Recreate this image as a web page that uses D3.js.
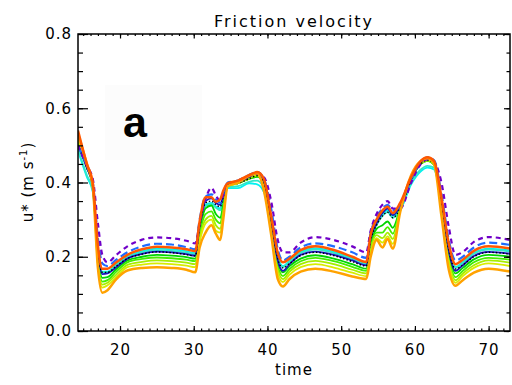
<!DOCTYPE html>
<html>
<head>
<meta charset="utf-8">
<script src="https://d3js.org/d3.v7.min.js"></script>
<style>
body { margin:0; background:#fff; }
text { font-family:"DejaVu Sans", sans-serif; }
</style>
</head>
<body>
<svg id="mainSvg" width="512" height="385"></svg>
<script>
// time axis (hours) shared by every run
var times = [14.3,15.5,16.3,17.0,17.6,18.3,19.5,21,23,25,27,29,30.2,30.8,31.6,32.4,33.0,33.6,34.0,34.6,
    36,37.5,38.6,39.5,40.5,41.4,42.1,43,44.5,46.5,49,51.5,53.4,54.0,54.8,55.6,56.3,57.0,58.0,59.5,
    60.8,61.7,62.6,63.6,64.6,65.5,66.5,68,70,72.9];

// u* for each run
var purpleDashed = [0.50,0.445,0.41,0.29,0.205,0.185,0.205,0.228,0.246,0.252,0.25,0.243,0.236,0.29,0.355,0.386,0.365,0.35,0.365,0.395,
    0.405,0.418,0.423,0.415,0.35,0.245,0.212,0.212,0.238,0.253,0.245,0.228,0.212,0.27,0.315,0.34,0.35,0.33,0.33,0.40,
    0.45,0.462,0.455,0.40,0.28,0.205,0.213,0.24,0.253,0.245];
var blueDashed = [0.50,0.445,0.40,0.25,0.182,0.175,0.192,0.212,0.228,0.235,0.233,0.226,0.22,0.30,0.362,0.368,0.355,0.345,0.37,0.40,
    0.405,0.42,0.428,0.41,0.33,0.22,0.19,0.20,0.225,0.236,0.228,0.212,0.197,0.265,0.305,0.33,0.34,0.325,0.335,0.41,
    0.455,0.468,0.46,0.37,0.245,0.19,0.20,0.225,0.238,0.232];
var redOrange = [0.54,0.45,0.40,0.23,0.168,0.168,0.185,0.205,0.22,0.227,0.225,0.22,0.215,0.295,0.36,0.36,0.348,0.355,0.378,0.398,
    0.405,0.42,0.428,0.41,0.31,0.21,0.185,0.195,0.218,0.228,0.218,0.20,0.186,0.26,0.30,0.325,0.335,0.318,0.345,0.415,
    0.458,0.468,0.458,0.36,0.235,0.18,0.192,0.216,0.228,0.222];
var cyanA = [0.485,0.415,0.375,0.22,0.16,0.16,0.18,0.20,0.215,0.222,0.22,0.215,0.21,0.28,0.34,0.345,0.335,0.33,0.355,0.385,
    0.385,0.398,0.395,0.375,0.30,0.20,0.175,0.19,0.213,0.223,0.213,0.196,0.183,0.25,0.29,0.315,0.325,0.31,0.325,0.395,
    0.43,0.44,0.435,0.35,0.225,0.172,0.186,0.21,0.222,0.217];
var cyanB = [0.49,0.42,0.38,0.218,0.158,0.158,0.178,0.198,0.212,0.218,0.216,0.211,0.207,0.278,0.337,0.342,0.332,0.325,0.35,0.387,
    0.39,0.402,0.405,0.385,0.30,0.198,0.172,0.187,0.21,0.22,0.21,0.193,0.18,0.248,0.285,0.31,0.32,0.305,0.325,0.40,
    0.435,0.445,0.44,0.35,0.222,0.17,0.183,0.208,0.219,0.214];
var navy = [0.50,0.44,0.39,0.215,0.153,0.155,0.172,0.195,0.208,0.214,0.212,0.207,0.203,0.285,0.35,0.357,0.345,0.34,0.365,0.395,
    0.40,0.415,0.425,0.405,0.30,0.19,0.162,0.18,0.205,0.214,0.205,0.19,0.177,0.25,0.29,0.318,0.33,0.312,0.335,0.41,
    0.455,0.465,0.455,0.355,0.215,0.162,0.177,0.202,0.213,0.208];
var blackDotted = [0.50,0.44,0.39,0.215,0.158,0.158,0.175,0.195,0.207,0.213,0.211,0.206,0.202,0.28,0.345,0.35,0.34,0.335,0.36,0.393,
    0.398,0.41,0.418,0.40,0.30,0.195,0.17,0.182,0.203,0.212,0.203,0.187,0.175,0.245,0.285,0.31,0.32,0.305,0.33,0.405,
    0.45,0.46,0.45,0.35,0.218,0.167,0.178,0.20,0.212,0.207];
var green = [0.505,0.44,0.395,0.205,0.143,0.145,0.167,0.19,0.20,0.205,0.203,0.199,0.195,0.27,0.33,0.338,0.315,0.305,0.34,0.392,
    0.398,0.41,0.415,0.40,0.29,0.185,0.158,0.175,0.195,0.204,0.195,0.18,0.168,0.235,0.275,0.285,0.295,0.278,0.33,0.41,
    0.45,0.458,0.448,0.345,0.21,0.155,0.17,0.193,0.205,0.20];
var lime = [0.51,0.443,0.393,0.195,0.133,0.137,0.16,0.185,0.194,0.198,0.196,0.192,0.188,0.26,0.315,0.322,0.30,0.29,0.33,0.39,
    0.398,0.41,0.417,0.395,0.28,0.175,0.148,0.167,0.188,0.197,0.188,0.173,0.162,0.228,0.265,0.265,0.28,0.262,0.33,0.41,
    0.45,0.458,0.448,0.34,0.20,0.145,0.162,0.185,0.197,0.192];
var yellowGreen = [0.515,0.445,0.39,0.185,0.125,0.13,0.152,0.178,0.186,0.19,0.188,0.184,0.18,0.25,0.30,0.31,0.285,0.275,0.32,0.39,
    0.398,0.412,0.42,0.39,0.27,0.165,0.14,0.16,0.18,0.189,0.18,0.165,0.155,0.22,0.258,0.25,0.265,0.248,0.33,0.415,
    0.452,0.46,0.45,0.33,0.19,0.137,0.155,0.177,0.19,0.184];
var yellow = [0.52,0.447,0.39,0.178,0.117,0.123,0.145,0.172,0.179,0.182,0.18,0.176,0.172,0.24,0.29,0.30,0.27,0.265,0.31,0.39,
    0.398,0.414,0.42,0.385,0.265,0.155,0.132,0.152,0.172,0.18,0.171,0.157,0.148,0.21,0.25,0.238,0.255,0.235,0.325,0.415,
    0.452,0.462,0.45,0.325,0.18,0.13,0.148,0.17,0.182,0.175];
var orange = [0.53,0.45,0.39,0.17,0.103,0.11,0.14,0.163,0.17,0.172,0.17,0.165,0.158,0.225,0.265,0.285,0.262,0.245,0.30,0.39,
    0.40,0.418,0.425,0.38,0.26,0.14,0.12,0.14,0.16,0.168,0.16,0.147,0.14,0.20,0.245,0.225,0.248,0.222,0.32,0.42,
    0.458,0.465,0.45,0.31,0.165,0.122,0.137,0.157,0.168,0.16];

var yTicks = [0.0,0.2,0.4,0.6,0.8];
var xTicks = [20,30,40,50,60,70];

// plot box
var L = 78, R = 510, T = 34, B = 331;
var svg = d3.select("#mainSvg");
var x = d3.scaleLinear().domain([14.3,72.9]).range([L,R]);
var y = d3.scaleLinear().domain([0,0.8]).range([B,T]);

svg.append("clipPath").attr("id","clip").append("rect")
    .attr("x",L).attr("y",T).attr("width",R-L).attr("height",B-T);

// draw order: bottom of the pile first
var runs = [
    {v:cyanA, c:"#00f2f2", w:1.8},
    {v:cyanB, c:"#30e8c8", w:1.8},
    {v:green, c:"#00d400", w:1.8},
    {v:lime, c:"#44ee00", w:1.8},
    {v:yellowGreen, c:"#a6ee00", w:1.8},
    {v:yellow, c:"#d8ec00", w:1.8},
    {v:navy, c:"#1a12c0", w:1.8},
    {v:blackDotted, c:"#000", w:1.4, dash:"1.5,2"},
    {v:blueDashed, c:"#1e6cff", w:2.2, dash:"8,4"},
    {v:purpleDashed, c:"#7000c8", w:2.2, dash:"5,4"},
    {v:orange, c:"#ffa200", w:2.5},
    {v:redOrange, c:"#ff5800", w:2.5}
];

var line = d3.line().x(function (d,i){return x(times[i])}).y(function (d){return y(d)})
    .curve(d3.curveMonotoneX);

svg.append("g").attr("clip-path","url(#clip)").selectAll(".run").data(runs).enter().append("path")
    .attr("class","run").attr("d",function (d){return line(d.v)})
    .attr("fill","none").attr("stroke",function (d){return d.c})
    .attr("stroke-width",function (d){return d.w})
    .attr("stroke-dasharray",function (d){return d.dash || null})
    .attr("stroke-linejoin","round");

// panel letter
svg.append("rect").attr("x",105).attr("y",85).attr("width",97).attr("height",75).attr("fill","#fcfcfc");
svg.append("text").attr("x",123).attr("y",137).text("a")
    .style("font-family","'Liberation Sans',Arial,sans-serif").style("font-weight","bold").style("font-size","43px");

// axes, ticks pointing inward
function styleAxis(g){
    g.select(".domain").remove();
    g.selectAll("line").attr("stroke","#000").attr("stroke-width",1.2);
    g.selectAll("text").attr("font-size",15).attr("fill","#000").style("letter-spacing","1px")
        .attr("font-family","'DejaVu Sans',sans-serif");
}
var minorY = d3.range(0,0.81,0.05), minorX = d3.range(15,73,1);

svg.append("g").attr("transform","translate("+L+",0)")
    .call(d3.axisLeft(y).tickValues(minorY).tickSize(-5).tickFormat("")).call(styleAxis);
svg.append("g").attr("transform","translate("+L+",0)")
    .call(d3.axisLeft(y).tickValues(yTicks).tickSize(-10).tickPadding(6).tickFormat(d3.format(".1f"))).call(styleAxis);
svg.append("g").attr("transform","translate("+R+",0)")
    .call(d3.axisRight(y).tickValues(minorY).tickSize(-3.5).tickFormat("")).call(styleAxis);
svg.append("g").attr("transform","translate("+R+",0)")
    .call(d3.axisRight(y).tickValues(yTicks).tickSize(-6).tickFormat("")).call(styleAxis);
svg.append("g").attr("transform","translate(0,"+B+")")
    .call(d3.axisBottom(x).tickValues(minorX).tickSize(-2.5).tickFormat("")).call(styleAxis);
svg.append("g").attr("transform","translate(0,"+B+")")
    .call(d3.axisBottom(x).tickValues(xTicks).tickSize(-5).tickPadding(13).tickFormat(d3.format("d"))).call(styleAxis);
svg.append("g").attr("transform","translate(0,"+T+")")
    .call(d3.axisTop(x).tickValues(minorX).tickSize(-2).tickFormat("")).call(styleAxis);
svg.append("g").attr("transform","translate(0,"+T+")")
    .call(d3.axisTop(x).tickValues(xTicks).tickSize(-4.5).tickFormat("")).call(styleAxis);

svg.append("rect").attr("x",L).attr("y",T).attr("width",R-L).attr("height",B-T)
    .attr("fill","none").attr("stroke","#000").attr("stroke-width",1.5);

// titles
svg.append("text").attr("x",(L+R)/2).attr("y",27).attr("text-anchor","middle")
    .attr("font-size",16).style("letter-spacing","2px").text("Friction velocity");
svg.append("text").attr("x",(L+R)/2).attr("y",375).attr("text-anchor","middle")
    .attr("font-size",15).style("letter-spacing","1px").text("time");
var yl = svg.append("text").attr("transform","translate(33,182) rotate(-90)").attr("text-anchor","middle")
    .attr("font-size",15).style("letter-spacing","1px");
yl.append("tspan").text("u* (m s");
yl.append("tspan").attr("font-size",10).attr("dy",-6).text("-1");
yl.append("tspan").attr("dy",6).text(")");
</script>
</body>
</html>
